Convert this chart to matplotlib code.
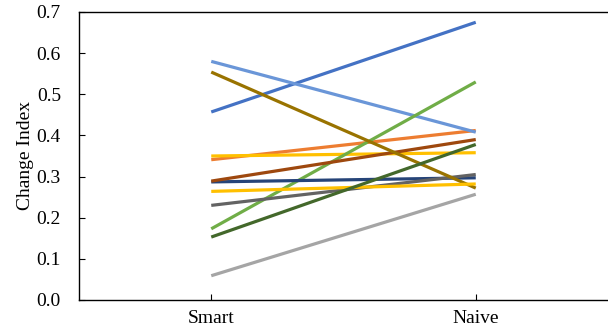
import matplotlib.pyplot as plt

plt.rcParams['font.family'] = ['Liberation Serif', 'DejaVu Serif']

categories = ['Smart', 'Naive']

# one (smart, naive) pair per participant
smart = [0.457, 0.341, 0.059, 0.350, 0.580, 0.173, 0.287, 0.289, 0.230, 0.554, 0.264, 0.153]
naive = [0.675, 0.412, 0.257, 0.358, 0.408, 0.530, 0.297, 0.390, 0.305, 0.272, 0.282, 0.378]
colors = ['#4472C4', '#ED7D31', '#A5A5A5', '#FFC000', '#6A96D8', '#70AD47',
          '#264478', '#9E480E', '#636363', '#997300', '#FFC000', '#43682B']

fig = plt.figure(figsize=(6.08, 3.28), dpi=100)
ax = fig.add_axes([79 / 608, 28 / 328, 1 - 79 / 608, 288 / 328])

xs = range(len(categories))
for s, n, c in zip(smart, naive, colors):
    ax.plot(xs, [s, n], color=c, lw=2.3, solid_capstyle='butt')

ax.set_xlim(-0.5, 1.5)
ax.set_ylim(0, 0.7)
ax.set_xticks(list(xs))
ax.set_xticklabels(categories)
ax.set_yticks([i / 10 for i in range(8)])
ax.set_yticklabels([f'{i / 10:.1f}' for i in range(8)])
ax.set_ylabel('Change Index', fontsize=14, labelpad=2)

ax.spines['right'].set_visible(False)
for side in ['left', 'top', 'bottom']:
    ax.spines[side].set_linewidth(1.0)
ax.tick_params(axis='both', direction='in', length=4, width=0.8, labelsize=14)
ax.tick_params(axis='y', pad=13)
ax.tick_params(axis='x', pad=7)

fig.savefig('out.png', dpi=100)
